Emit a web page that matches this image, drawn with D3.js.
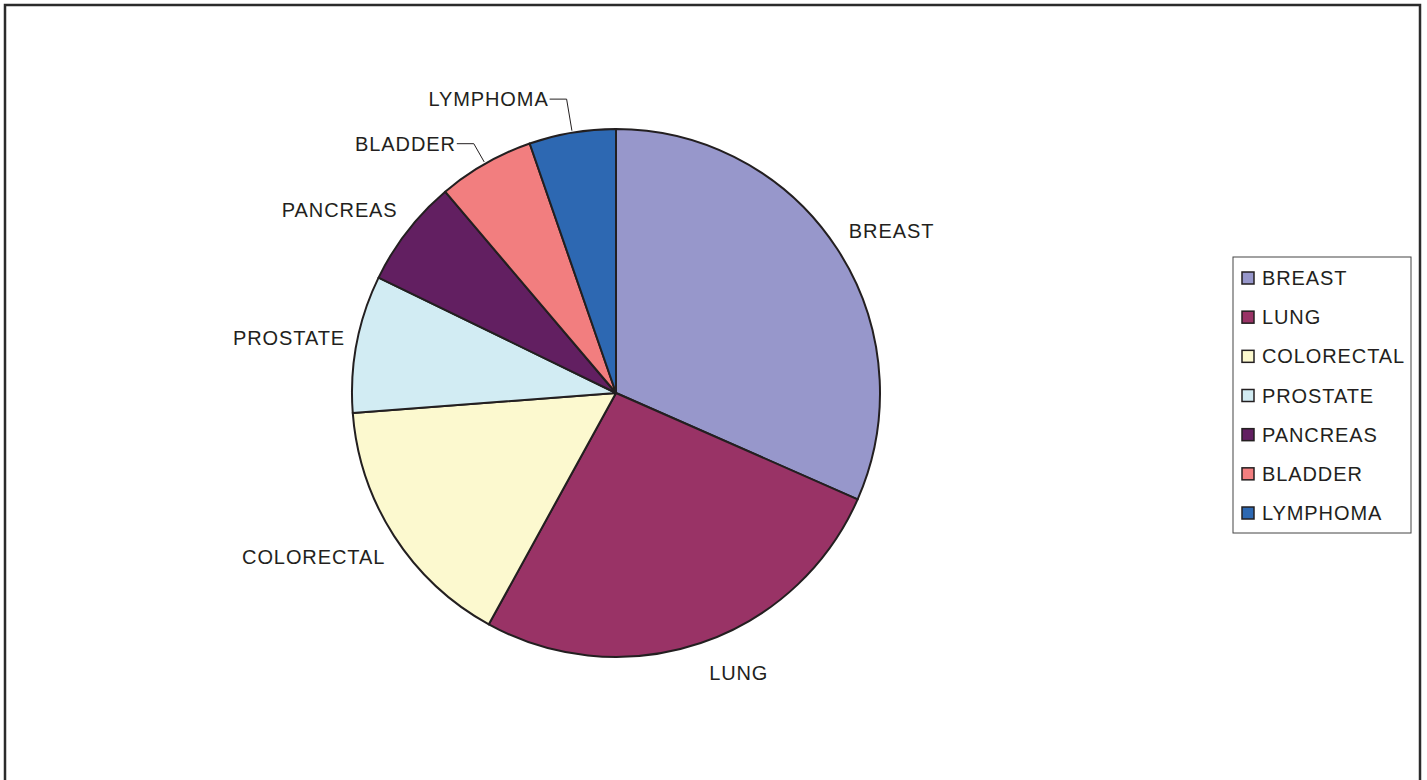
<!DOCTYPE html>
<html>
<head>
<meta charset="utf-8">
<script src="https://cdn.jsdelivr.net/npm/d3@7"></script>
<style>
  html, body { margin: 0; padding: 0; background: #fff; }
  svg { display: block; }
  text { font-family: "Liberation Sans", Arial, sans-serif; fill: #231f20; }
</style>
</head>
<body>
<svg id="chart" width="1427" height="780"></svg>
<script>
// Share of cases by cancer site (percent)
const categories = ["BREAST", "LUNG", "COLORECTAL", "PROSTATE", "PANCREAS", "BLADDER", "LYMPHOMA"];
const values = [31.6, 26.4, 15.8, 8.4, 6.6, 5.9, 5.3];
const colors = ["#9797cb", "#993366", "#fcf9cf", "#d2ecf3", "#621f61", "#f27e7f", "#2d68b2"];

const width = 1427, height = 780;
const cx = 616, cy = 393, radius = 264;
const ink = "#231f20";

const svg = d3.select("#chart");

// outer frame (bottom edge runs past the page)
svg.append("rect")
  .attr("x", 5).attr("y", 5)
  .attr("width", 1415).attr("height", 800)
  .attr("fill", "none").attr("stroke", "#2b2b2b").attr("stroke-width", 2.5);

const data = categories.map((c, i) => ({ name: c, value: values[i], color: colors[i] }));

const pie = d3.pie().sort(null).value(d => d.value);
const arcs = pie(data);
const arc = d3.arc().innerRadius(0).outerRadius(radius);

const g = svg.append("g").attr("transform", `translate(${cx},${cy})`);

g.selectAll("path.slice")
  .data(arcs)
  .join("path")
  .attr("class", "slice")
  .attr("d", arc)
  .attr("fill", d => d.data.color)
  .attr("stroke", ink)
  .attr("stroke-width", 2)
  .attr("stroke-linejoin", "round");

// label placement: most labels sit just off the rim; crowded ones get a leader
const leaderPush = { BLADDER: 23, LYMPHOMA: 34 };
const labelNudge = {
  BREAST: [-5, -7], LUNG: [2, 0], COLORECTAL: [8, 10],
  PROSTATE: [8, -2], PANCREAS: [6, -2]
};
const labelGap = 20;
const fontSize = 20;
const spacing = 0.9;

const polar = (a, r) => [r * Math.sin(a), -r * Math.cos(a)];

arcs.forEach(d => {
  const mid = (d.startAngle + d.endAngle) / 2;
  const name = d.data.name;
  const right = Math.sin(mid) >= 0;
  if (leaderPush[name] !== undefined) {
    const p0 = polar(mid, radius + 2);
    const p1 = polar(mid, radius + leaderPush[name]);
    const p2 = [p1[0] - 17, p1[1]];
    g.append("polyline")
      .attr("points", [p0, p1, p2].map(p => p.join(",")).join(" "))
      .attr("fill", "none").attr("stroke", ink).attr("stroke-width", 1);
    g.append("text")
      .attr("x", p2[0] - 1).attr("y", p2[1])
      .attr("dy", "0.35em")
      .attr("text-anchor", "end")
      .attr("font-size", fontSize)
      .attr("letter-spacing", spacing)
      .text(name);
  } else {
    const p = polar(mid, radius + labelGap);
    const n = labelNudge[name] || [0, 0];
    const cosv = -Math.cos(mid); // positive when below centre
    const dy = cosv > 0.6 ? "0.9em" : (cosv < -0.6 ? "0em" : "0.35em");
    g.append("text")
      .attr("x", p[0] + n[0]).attr("y", p[1] + n[1])
      .attr("dy", dy)
      .attr("text-anchor", Math.abs(Math.sin(mid)) < 0.4 ? "start" : (right ? "start" : "end"))
      .attr("font-size", fontSize)
      .attr("letter-spacing", spacing)
      .text(name);
  }
});

// legend
const legend = svg.append("g").attr("transform", "translate(1233,257)");
legend.append("rect")
  .attr("x", 0).attr("y", 0)
  .attr("width", 178).attr("height", 276)
  .attr("fill", "#fff").attr("stroke", "#444").attr("stroke-width", 1);

const rowY = d3.scalePoint().domain(categories).range([21, 256]);

const item = legend.selectAll("g.item")
  .data(data)
  .join("g")
  .attr("class", "item")
  .attr("transform", d => `translate(0,${rowY(d.name)})`);

item.append("rect")
  .attr("x", 9).attr("y", -6)
  .attr("width", 12).attr("height", 12)
  .attr("fill", d => d.color)
  .attr("stroke", ink).attr("stroke-width", 1.5);

item.append("text")
  .attr("x", 29).attr("y", 0)
  .attr("dy", "0.35em")
  .attr("font-size", fontSize)
  .attr("letter-spacing", spacing)
  .text(d => d.name);
</script>
</body>
</html>
